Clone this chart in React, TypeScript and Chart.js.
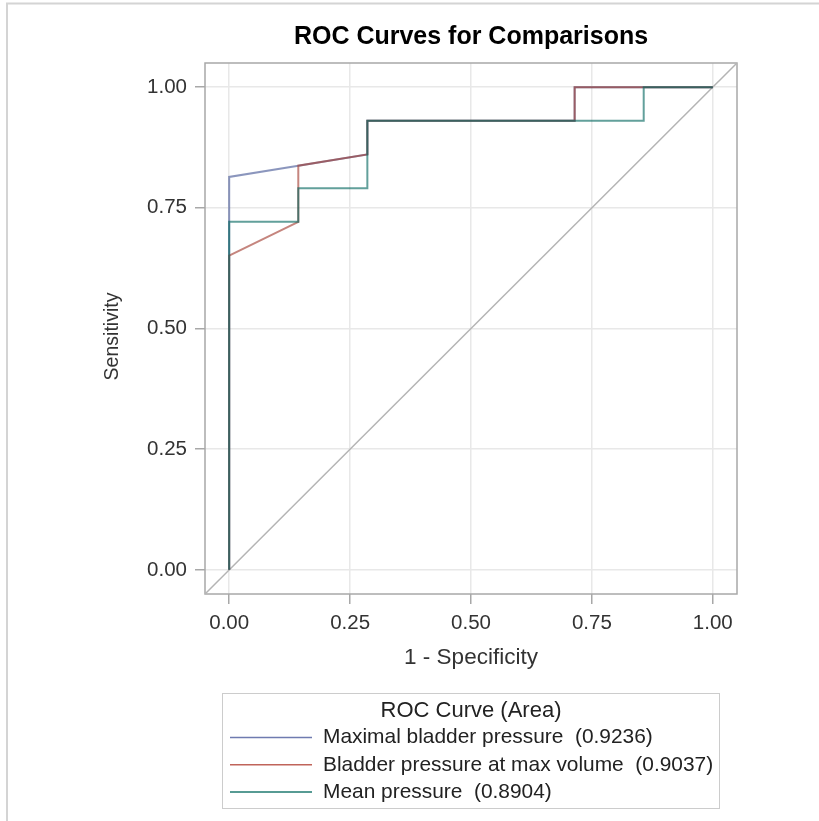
import { useEffect, useRef } from 'react';
import { Chart, registerables } from 'chart.js';

Chart.register(...registerables);

const chartTitle = 'ROC Curves for Comparisons';
const xAxisLabel = '1 - Specificity';
const yAxisLabel = 'Sensitivity';
const legendTitle = 'ROC Curve (Area)';
const tickValues = [0, 0.25, 0.5, 0.75, 1];
const axisMin = -0.05;
const axisMax = 1.05;

const seriesNames = ['Maximal bladder pressure', 'Bladder pressure at max volume', 'Mean pressure'];
const seriesAreas = [0.9236, 0.9037, 0.8904];
const seriesColors = ['rgba(68,86,148,0.62)', 'rgba(162,58,46,0.62)', 'rgba(1,102,94,0.62)'];
const legendColors = ['#6f7bb0', '#c0645a', '#1f7a70'];

// 1 - Specificity / Sensitivity pairs (step points)
const maxPressureFpr = [0, 0, 0.1429, 0.2857, 0.2857, 0.7143, 0.7143, 1];
const maxPressureTpr = [0, 0.814, 0.8372, 0.8605, 0.9302, 0.9302, 1, 1];

const maxVolumeFpr = [0, 0, 0.1429, 0.1429, 0.2857, 0.2857, 0.7143, 0.7143, 1];
const maxVolumeTpr = [0, 0.6512, 0.7209, 0.8372, 0.8605, 0.9302, 0.9302, 1, 1];

const meanPressureFpr = [0, 0, 0.1429, 0.1429, 0.2857, 0.2857, 0.8571, 0.8571, 1];
const meanPressureTpr = [0, 0.7209, 0.7209, 0.7907, 0.7907, 0.9302, 0.9302, 1, 1];

const FONT = "'Liberation Sans', Arial, sans-serif";

function toPoints(xs: number[], ys: number[]) {
  return xs.map((x, i) => ({ x, y: ys[i] }));
}

export default function App() {
  const ref = useRef<HTMLCanvasElement>(null);

  useEffect(() => {
    const canvas = ref.current;
    if (!canvas) return;
    Chart.defaults.font.family = FONT;

    const curves = [
      toPoints(maxPressureFpr, maxPressureTpr),
      toPoints(maxVolumeFpr, maxVolumeTpr),
      toPoints(meanPressureFpr, meanPressureTpr),
    ];
    const labels = seriesNames.map((n, i) => `${n}  (${seriesAreas[i].toFixed(4)})`);

    const framePlugin = {
      id: 'framePlugin',
      beforeDraw(chart: any) {
        const ctx = chart.ctx;
        ctx.save();
        ctx.fillStyle = '#ffffff';
        ctx.fillRect(0, 0, chart.width, chart.height);
        ctx.strokeStyle = '#d4d4d4';
        ctx.lineWidth = 2;
        ctx.beginPath();
        ctx.moveTo(7, chart.height);
        ctx.lineTo(7, 3.5);
        ctx.lineTo(chart.width, 3.5);
        ctx.stroke();
        ctx.restore();
      },
      beforeDatasetsDraw(chart: any) {
        const { ctx, chartArea: a } = chart;
        ctx.save();
        ctx.strokeStyle = '#a8a8a8';
        ctx.lineWidth = 1.5;
        ctx.strokeRect(a.left, a.top, a.right - a.left, a.bottom - a.top);
        ctx.restore();
      },
      afterDraw(chart: any) {
        const ctx = chart.ctx;
        ctx.save();
        // y axis title
        ctx.fillStyle = '#333';
        ctx.font = `19.5px ${FONT}`;
        ctx.textAlign = 'center';
        ctx.textBaseline = 'middle';
        ctx.translate(113, 336.5);
        ctx.rotate(-Math.PI / 2);
        ctx.fillText(yAxisLabel, 0, 0);
        ctx.restore();

        const lx = 222.5, ly = 693.5, lw = 497, lh = 115;
        ctx.save();
        ctx.strokeStyle = '#cccccc';
        ctx.lineWidth = 1;
        ctx.strokeRect(lx, ly, lw, lh);
        ctx.fillStyle = '#222';
        ctx.font = `22px ${FONT}`;
        ctx.textAlign = 'center';
        ctx.textBaseline = 'middle';
        ctx.fillText(legendTitle, lx + lw / 2, 711);
        ctx.textAlign = 'left';
        ctx.font = `20.9px ${FONT}`;
        labels.forEach((t, i) => {
          const y = 737.5 + i * 27.3;
          ctx.strokeStyle = legendColors[i];
          ctx.lineWidth = 1.5;
          ctx.beginPath();
          ctx.moveTo(230, y);
          ctx.lineTo(312, y);
          ctx.stroke();
          ctx.fillStyle = '#222';
          ctx.fillText(t, 323, y);
        });
        ctx.restore();
      },
    };

    const commonTicks = {
      color: '#333',
      font: { size: 20.5 },
      callback: (v: any) => Number(v).toFixed(2),
    };

    const chart = new Chart(canvas, {
      type: 'scatter',
      data: {
        datasets: [
          ...curves.map((pts, i) => ({
            label: labels[i],
            data: pts,
            showLine: true,
            order: 2 - i,
            borderColor: seriesColors[i],
            backgroundColor: seriesColors[i],
            borderWidth: 2,
            pointRadius: 0,
            tension: 0,
            fill: false,
          })),
          {
            label: 'reference',
            data: [
              { x: axisMin, y: axisMin },
              { x: axisMax, y: axisMax },
            ],
            showLine: true,
            order: 3,
            borderColor: '#b4b4b4',
            borderWidth: 1.5,
            pointRadius: 0,
            fill: false,
          },
        ],
      },
      options: {
        animation: false,
        responsive: false,
        devicePixelRatio: 1,
        events: [],
        layout: { padding: { left: 0, right: 82, top: 0, bottom: 149.5 } },
        plugins: {
          legend: { display: false },
          tooltip: { enabled: false },
          title: {
            display: true,
            text: chartTitle,
            fullSize: false,
            color: '#000',
            font: { size: 25, weight: 'bold', family: FONT, lineHeight: 1.2 },
            padding: { top: 22, bottom: 11 },
          },
        },
        scales: {
          x: {
            type: 'linear',
            min: axisMin,
            max: axisMax,
            afterBuildTicks: (s: any) => {
              s.ticks = tickValues.map((v) => ({ value: v }));
            },
            afterFit: (s: any) => {
              s.height = 77.5;
            },
            ticks: { ...commonTicks, padding: 7.5, maxRotation: 0, autoSkip: false },
            grid: { color: '#e8e8e8', lineWidth: 1.5, tickColor: '#a8a8a8', tickLength: 10, tickWidth: 1.5 },
            border: { display: false },
            title: { display: true, text: xAxisLabel, color: '#333', font: { size: 22.5, lineHeight: 1.2 }, padding: 0 },
          },
          y: {
            type: 'linear',
            min: axisMin,
            max: axisMax,
            afterBuildTicks: (s: any) => {
              s.ticks = tickValues.map((v) => ({ value: v }));
            },
            afterFit: (s: any) => {
              s.width = 205;
            },
            ticks: { ...commonTicks, padding: 8, autoSkip: false },
            grid: { color: '#e8e8e8', lineWidth: 1.5, tickColor: '#a8a8a8', tickLength: 10, tickWidth: 1.5 },
            border: { display: false },
            title: { display: false },
          },
        },
      },
      plugins: [framePlugin],
    } as any);

    return () => chart.destroy();
  }, []);

  return (
    <div style={{ position: 'absolute', left: 0, top: 0, width: 819, height: 821 }}>
      <canvas ref={ref} width={819} height={821} style={{ display: 'block' }} />
    </div>
  );
}
